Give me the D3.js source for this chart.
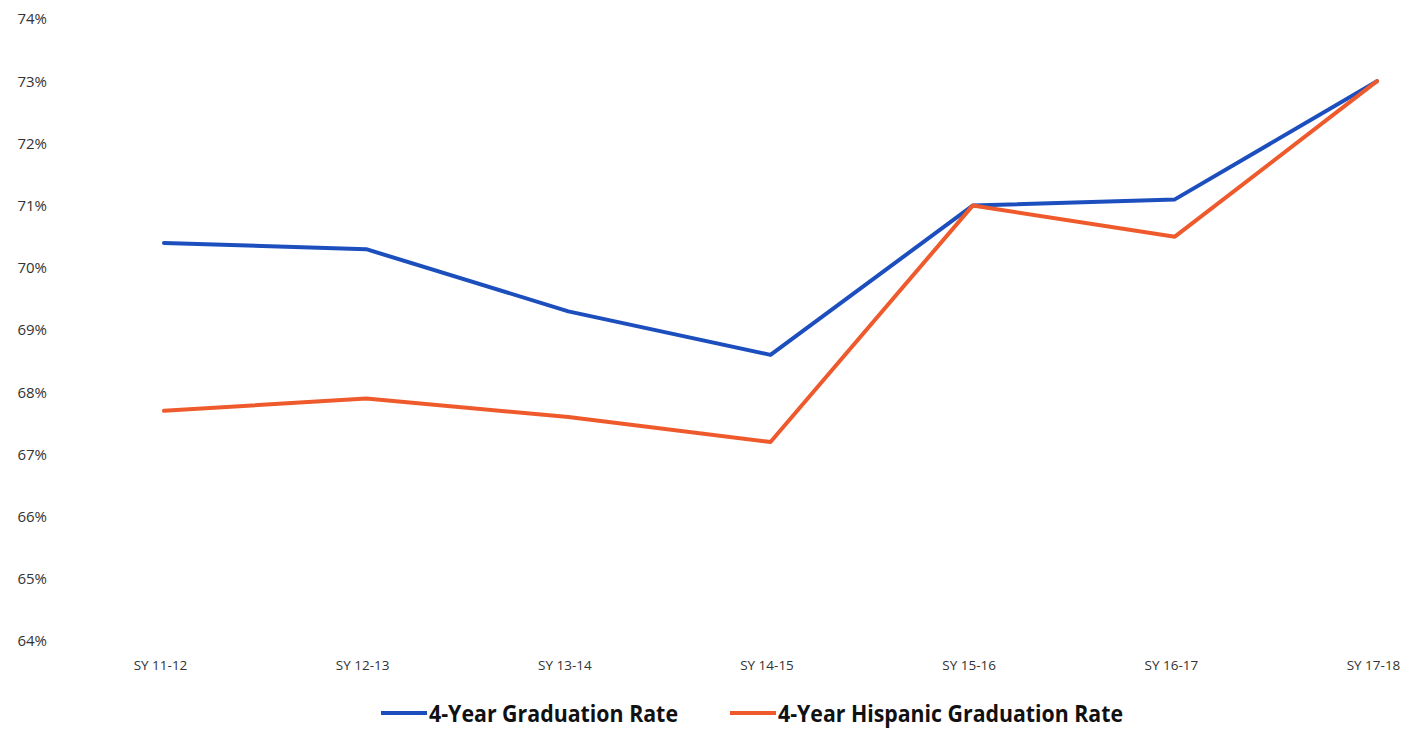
<!DOCTYPE html>
<html><head><meta charset="utf-8">
<script src="https://cdn.jsdelivr.net/npm/d3@7"></script>
<style>body{margin:0;background:#fff;} svg{display:block;}</style>
</head><body>
<svg id="c" width="1418" height="730"></svg>
<script>
const categories = ["SY 11-12","SY 12-13","SY 13-14","SY 14-15","SY 15-16","SY 16-17","SY 17-18"];
const gradRate = [70.4, 70.3, 69.3, 68.6, 71.0, 71.1, 73.0];
const hispanicRate = [67.7, 67.9, 67.6, 67.2, 71.0, 70.5, 73.0];
const yTicks = [64,65,66,67,68,69,70,71,72,73,74];
const seriesNames = ["4-Year Graduation Rate","4-Year Hispanic Graduation Rate"];
const colors = ["#1c4fbd","#ee5a2c"];

const svg = d3.select("#c");
const x = d3.scalePoint().domain(categories).range([164,1377]);
const y = d3.scaleLinear().domain([64,74]).range([641,19]);

const yAxis = d3.axisLeft(y).tickValues(yTicks).tickFormat(d=>d+"%").tickSize(0).tickPadding(0);
const gy = svg.append("g").attr("transform","translate(47,0)").call(yAxis);
gy.select(".domain").remove();
gy.selectAll("text").attr("font-family","Open Sans").attr("font-size",15).attr("fill","#333");

const xAxis = d3.axisBottom(x).tickSize(0).tickPadding(0);
const gx = svg.append("g").attr("transform","translate(-4,660)").call(xAxis);
gx.select(".domain").remove();
gx.selectAll("text").attr("font-family","Open Sans").attr("font-size",13.5).attr("fill","#333");

const line = d3.line().x((d,i)=>x(categories[i])).y(d=>y(d));
[gradRate, hispanicRate].forEach((s,k)=>{
  svg.append("path").datum(s).attr("d",line).attr("fill","none")
    .attr("stroke",colors[k]).attr("stroke-width",4).attr("stroke-linejoin","round").attr("stroke-linecap","round");
});

const legend = [{x0:381,x1:427,w:249},{x0:730,x1:776,w:345}];
seriesNames.forEach((n,k)=>{
  const lg = svg.append("g");
  lg.append("line").attr("x1",legend[k].x0).attr("x2",legend[k].x1).attr("y1",713).attr("y2",713)
    .attr("stroke",colors[k]).attr("stroke-width",4);
  lg.append("text").attr("x",legend[k].x1+2).attr("y",722).text(n)
    .attr("textLength",legend[k].w).attr("lengthAdjust","spacingAndGlyphs")
    .attr("font-family","Open Sans").attr("font-weight","bold").attr("font-size",23).attr("fill","#111");
});
</script>
</body></html>
